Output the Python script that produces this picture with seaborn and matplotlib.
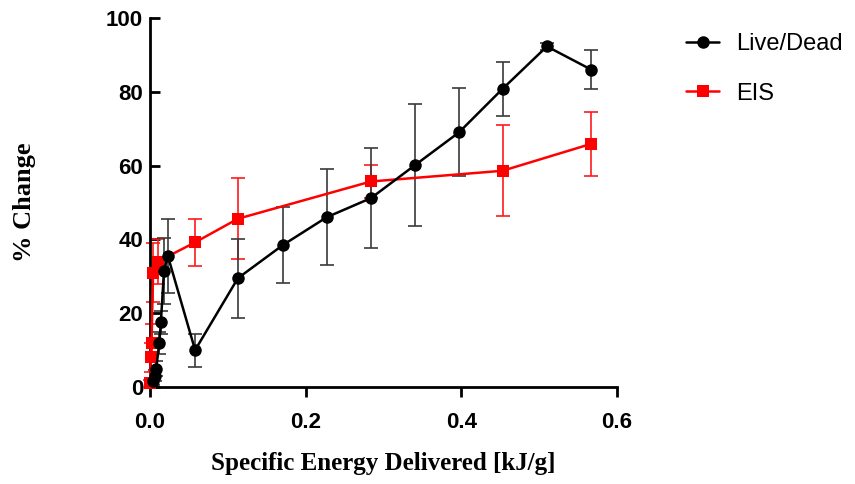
import matplotlib
matplotlib.use("Agg")
import matplotlib.pyplot as plt
import seaborn as sns
import pandas as pd

# Live/Dead series (mean, error)
ld_x = [0.004, 0.006, 0.008, 0.012, 0.014, 0.018, 0.023, 0.058, 0.113, 0.171,
        0.227, 0.284, 0.341, 0.397, 0.453, 0.510, 0.567]
ld_y = [1.5, 3, 5, 12, 17.5, 31.5, 35.5, 10, 29.5, 38.5,
        46, 51.2, 60.2, 69, 80.8, 92.3, 86]
ld_err = [1, 1.5, 2, 3, 3, 9, 10, 4.5, 10.7, 10.3,
          13, 13.6, 16.5, 11.9, 7.4, 1, 5.2]

# EIS series (mean, error)
eis_x = [0.0005, 0.001, 0.002, 0.004, 0.01, 0.058, 0.113, 0.284, 0.453, 0.567]
eis_y = [1, 8, 12, 31, 34, 39.2, 45.6, 55.7, 58.6, 65.9]
eis_err = [1, 4, 5, 8, 6, 6.3, 11, 4.5, 12.3, 8.7]

x_ticks = [0.0, 0.2, 0.4, 0.6]
x_tick_labels = ["0.0", "0.2", "0.4", "0.6"]
y_ticks = [0, 20, 40, 60, 80, 100]

ld = pd.DataFrame({"x": ld_x, "y": ld_y, "err": ld_err})
eis = pd.DataFrame({"x": eis_x, "y": eis_y, "err": eis_err})

sns.set_style("ticks")
plt.rcParams['font.family'] = ['Liberation Sans', 'DejaVu Sans']
plt.rcParams['text.color'] = 'black'
plt.rcParams['axes.labelcolor'] = 'black'

fig = plt.figure(figsize=(8.55, 4.84), dpi=100)
ax = fig.add_axes([0.1754, 0.2004, 0.5462, 0.7624])

# error bars
ax.errorbar(eis["x"], eis["y"], yerr=eis["err"], fmt="none", ecolor="#ff1a1a",
            elinewidth=1.2, capsize=5, capthick=1.2, clip_on=False, zorder=2)
ax.errorbar(ld["x"], ld["y"], yerr=ld["err"], fmt="none", ecolor="#3a3a3a",
            elinewidth=1.2, capsize=5, capthick=1.2, clip_on=False, zorder=3)

# lines + markers
sns.lineplot(data=eis, x="x", y="y", ax=ax, color="#ff0000", marker="s",
             markersize=8, markeredgewidth=0, linewidth=1.8, sort=False,
             label="EIS", clip_on=False, zorder=4)
sns.lineplot(data=ld, x="x", y="y", ax=ax, color="black", marker="o",
             markersize=9, markeredgewidth=0, linewidth=1.8, sort=False,
             label="Live/Dead", clip_on=False, zorder=5)

ax.set_xlim(0, 0.6)
ax.set_ylim(0, 100)
ax.set_xticks(x_ticks)
ax.set_xticklabels(x_tick_labels)
ax.set_yticks(y_ticks)
ax.tick_params(axis="both", labelsize=16, width=2, length=7, color="black",
               labelcolor="black")
ax.tick_params(axis="x", direction="out", pad=11)
ax.tick_params(axis="y", direction="in", pad=5)
for lab in ax.get_xticklabels() + ax.get_yticklabels():
    lab.set_fontweight("bold")
for side in ["left", "bottom"]:
    ax.spines[side].set_linewidth(2)
    ax.spines[side].set_color("black")
sns.despine(ax=ax)

ax.set_xlabel("Specific Energy Delivered [kJ/g]", fontsize=18,
              fontweight="bold", family="Liberation Serif", labelpad=14)
ax.set_ylabel("% Change", fontsize=19, fontweight="bold",
              family="Liberation Serif", labelpad=50)

handles, labels = ax.get_legend_handles_labels()
ax.get_legend().remove()
order = [labels.index("Live/Dead"), labels.index("EIS")]
fig.legend([handles[i] for i in order], [labels[i] for i in order],
           loc="upper left", bbox_to_anchor=(0.778, 0.975), frameon=False,
           fontsize=17, handlelength=1.4, handletextpad=0.7, labelspacing=1.15)

fig.savefig("out.png", dpi=100)
